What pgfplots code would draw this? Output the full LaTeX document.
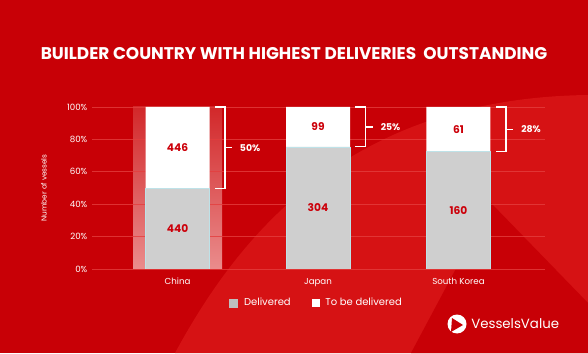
\documentclass[border=0pt]{standalone}
\usepackage{pgfplots}
\pgfplotsset{compat=1.18}
\usepackage{fontspec}
\setmainfont{Poppins}
\definecolor{bgred}{RGB}{200,0,6}
\definecolor{bglight}{RGB}{214,18,20}
\definecolor{gridred}{RGB}{228,62,62}
\definecolor{barGray}{RGB}{207,207,207}
\definecolor{legGray}{RGB}{190,190,190}
\definecolor{barEdge}{RGB}{190,226,232}
\definecolor{labred}{RGB}{204,0,10}
\definecolor{stripTop}{RGB}{210,40,42}
\definecolor{stripBot}{RGB}{234,140,140}
\begin{document}
\begin{tikzpicture}
\begin{scope}[x=0.75pt,y=0.75pt]
  \fill[bgred] (0,0) rectangle (588,353);
  \fill[bglight] (175,0) .. controls (240,120) and (350,255) .. (588,258) -- (588,0) -- cycle;
  \fill[bgred] (491,150) -- (588,50) -- (588,0) -- (411,0) -- cycle;
  \node[text=white, font=\fontsize{12.7}{14}\selectfont\bfseries] at (294,299.5) {BUILDER COUNTRY WITH HIGHEST DELIVERIES\ \ OUTSTANDING};
  \fill[white] (457,29) circle (9.5);
  \fill[bgred] (452,35) -- (463,28) -- (451,21) -- cycle;
  \node[anchor=west, text=white, font=\fontsize{10}{12}\selectfont, inner sep=0pt] at (471,29) {VesselsValue};
  \shade[top color=stripTop, bottom color=stripBot] (133,84) rectangle (222,246);
\end{scope}
\begin{axis}[
  at={(69pt,63pt)}, anchor=south west,
  scale only axis, width=339.75pt, height=121.5pt,
  xmin=-0.609, xmax=2.616, ymin=0, ymax=100,
  ybar stacked, bar width=48pt,
  axis line style={draw=none}, major tick length=0pt,
  ytick={0,20,40,60,80,100},
  yticklabels={0\%,20\%,40\%,60\%,80\%,100\%},
  xtick={0,1,2}, xticklabels={China,Japan,South Korea},
  xticklabel style={yshift=-3.5pt},
  ymajorgrids, major grid style={gridred, line width=0.6pt, opacity=0.8},
  tick label style={text=white, font=\fontsize{6.5}{8}\selectfont},
  ylabel={Number of vessels},
  ylabel style={text=white, font=\fontsize{5.5}{6}\selectfont, at={(axis description cs:-0.106,0.5)}, anchor=center},
  legend style={at={(0.496,-0.21)}, anchor=center, legend columns=2, draw=none, fill=none, text=white, font=\fontsize{7.5}{9}\selectfont, /tikz/every even column/.append style={column sep=14pt}},
]
\addplot[fill=barGray, draw=barEdge, line width=0.4pt, legend image code/.code={\fill[legGray] (0pt,-3pt) rectangle (6pt,3pt); \path (9pt,0pt);}] coordinates {(0,49.66) (1,75.43) (2,72.40)};
\addplot[fill=white, draw=none, legend image code/.code={\fill[white] (0pt,-3pt) rectangle (6pt,3pt); \path (8pt,0pt);}] coordinates {(0,50.34) (1,24.57) (2,27.60)};
\legend{Delivered, To be delivered}
\coordinate (a1) at (axis cs:0,74.83);
\coordinate (a0) at (axis cs:0,24.83);
\coordinate (b1) at (axis cs:1,87.7);
\coordinate (b0) at (axis cs:1,37.7);
\coordinate (c1) at (axis cs:2,86.2);
\coordinate (c0) at (axis cs:2,36.2);
\coordinate (at) at (axis cs:0,100);
\coordinate (ab) at (axis cs:0,49.66);
\coordinate (bt) at (axis cs:1,100);
\coordinate (bb) at (axis cs:1,75.43);
\coordinate (ct) at (axis cs:2,100);
\coordinate (cb) at (axis cs:2,72.40);
\end{axis}
\tikzset{lab/.style={text=labred, font=\fontsize{8}{9}\selectfont\bfseries}, pct/.style={text=white, font=\fontsize{7}{8}\selectfont\bfseries}, br/.style={white, line width=1pt}}
\node[lab] at (a1) {446};
\node[lab] at (a0) {440};
\node[lab] at (b1) {99};
\node[lab] at (b0) {304};
\node[lab] at (c1) {61};
\node[lab] at (c0) {160};
\draw[br] ([xshift=28pt]at) -- ([xshift=35.6pt]at) -- ([xshift=35.6pt]ab) -- ([xshift=28pt]ab);
\draw[br] ([xshift=35.6pt]a1) -- ([xshift=41pt]a1);
\node[pct] at ([xshift=54.4pt]a1) {50\%};
\draw[br] ([xshift=28pt]bt) -- ([xshift=35.6pt]bt) -- ([xshift=35.6pt]bb) -- ([xshift=28pt]bb);
\draw[br] ([xshift=35.6pt]b1) -- ([xshift=41pt]b1);
\node[pct] at ([xshift=54.4pt]b1) {25\%};
\draw[br] ([xshift=28pt]ct) -- ([xshift=35.6pt]ct) -- ([xshift=35.6pt]cb) -- ([xshift=28pt]cb);
\draw[br] ([xshift=35.6pt]c1) -- ([xshift=41pt]c1);
\node[pct] at ([xshift=54.4pt]c1) {28\%};
\end{tikzpicture}
\end{document}
